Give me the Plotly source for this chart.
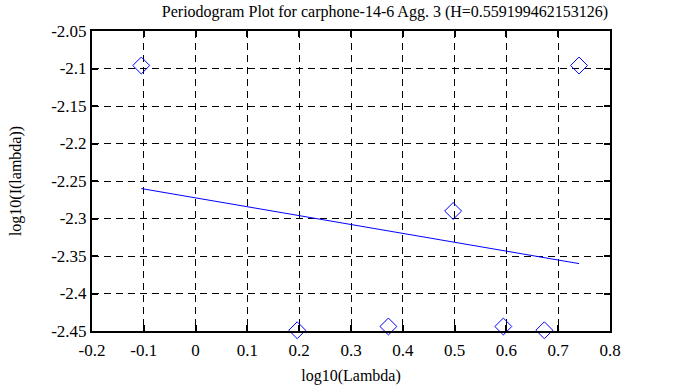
import math
import plotly.graph_objects as go

H = 0.559199462153126
title = "Periodogram Plot for carphone-14-6 Agg. 3 (H=0.559199462153126)"

# log10 of frequencies lambda = k*pi/4, k = 1..7
k_values = [1, 2, 3, 4, 5, 6, 7]
log_lambda = [math.log10(k * math.pi / 4) for k in k_values]
log_I = [-2.096, -2.449, -2.444, -2.290, -2.444, -2.449, -2.096]

slope = 1 - 2 * H
intercept = -2.2725
fit_x = [log_lambda[0], log_lambda[-1]]
fit_y = [intercept + slope * x for x in fit_x]

x_ticks = [-0.2, -0.1, 0, 0.1, 0.2, 0.3, 0.4, 0.5, 0.6, 0.7, 0.8]
y_ticks = [-2.45, -2.4, -2.35, -2.3, -2.25, -2.2, -2.15, -2.1, -2.05]

fig = go.Figure()
fig.add_trace(go.Scatter(
    x=log_lambda, y=log_I, mode="markers",
    marker=dict(symbol="diamond-open", size=13, color="#0000ff", line=dict(width=1, color="#0000ff")),
    cliponaxis=False, showlegend=False))
fig.add_trace(go.Scatter(
    x=fit_x, y=fit_y, mode="lines",
    line=dict(color="#0000ff", width=1), showlegend=False))

font = "Liberation Serif"
axis_common = dict(
    showline=True, linecolor="black", linewidth=2, mirror="ticks",
    ticks="inside", ticklen=6, tickwidth=2, tickcolor="black",
    showgrid=True, gridcolor="black", gridwidth=1, griddash="7px,5px",
    zeroline=False, tickfont=dict(family=font, size=17, color="black"),
)
fig.update_xaxes(range=[-0.2, 0.8], tickvals=x_ticks, ticktext=[f"{v:g}" for v in x_ticks],
                 ticklabelstandoff=3,
                 title=dict(text="log10(Lambda)", font=dict(family=font, size=16, color="black"), standoff=10),
                 **axis_common)
fig.update_yaxes(range=[-2.45, -2.05], tickvals=y_ticks, ticktext=[f"{v:g}" for v in y_ticks],
                 title=dict(text="log10(I(lambda))", font=dict(family=font, size=16, color="black"), standoff=26),
                 **axis_common)

fig.update_layout(
    width=673, height=387,
    margin=dict(l=92, r=63, t=31, b=56, autoexpand=False),
    paper_bgcolor="white", plot_bgcolor="white",
    title=dict(text=title, x=385 / 673, xanchor="center", y=1 - 11 / 387, yanchor="middle",
               font=dict(family=font, size=16, color="black")),
)
fig.write_html("out.html", config={"displayModeBar": False},
               post_script="document.body.style.margin='0';document.body.style.padding='0';")
